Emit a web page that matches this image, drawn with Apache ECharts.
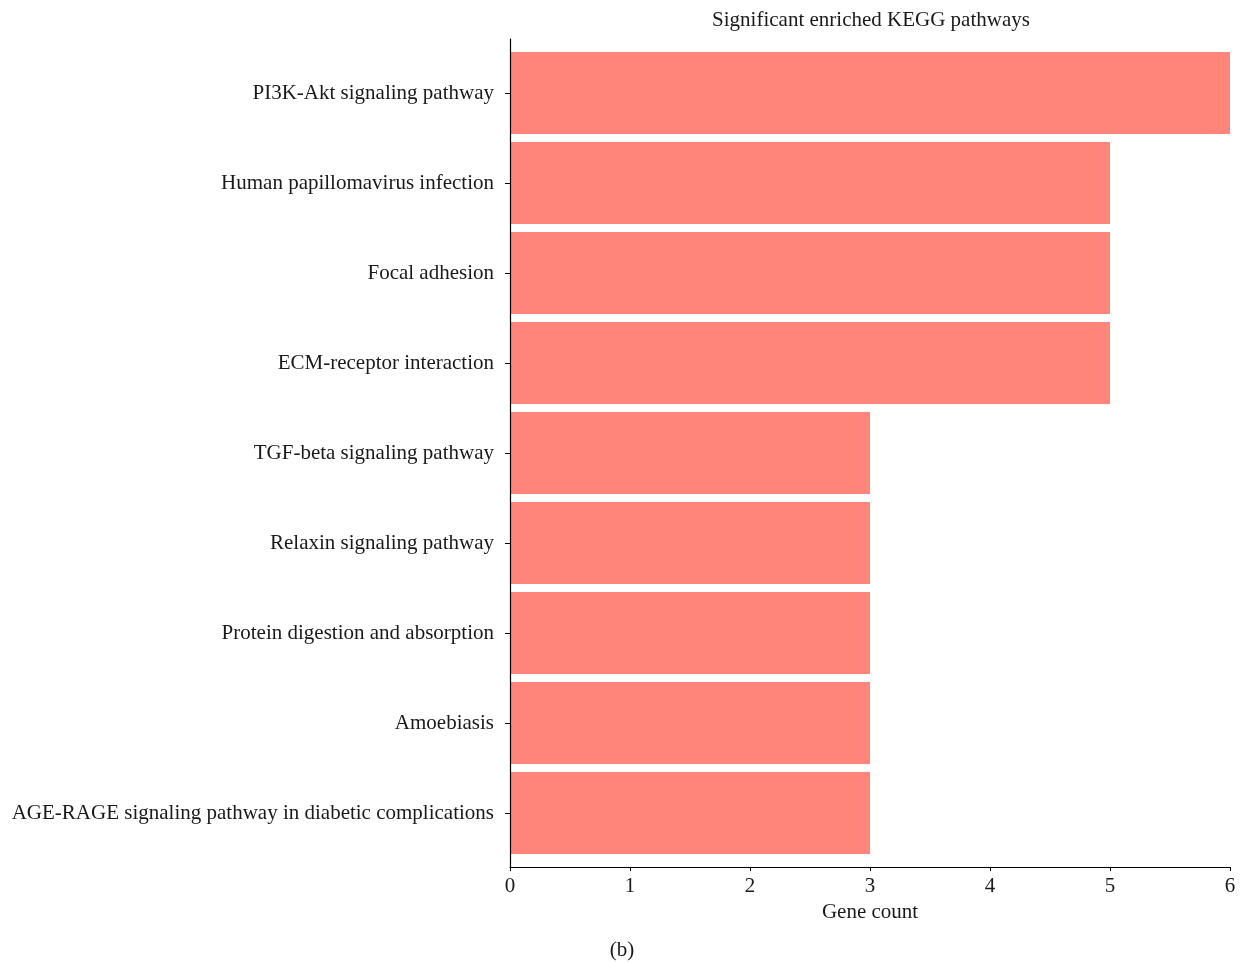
<!DOCTYPE html>
<html>
<head>
<meta charset="utf-8">
<title>Significant enriched KEGG pathways</title>
<script src="https://cdn.jsdelivr.net/npm/echarts@6/dist/echarts.min.js"></script>
<style>
  html, body { margin: 0; padding: 0; background: #fff; }
  #chart { width: 1244px; height: 962px; }
</style>
</head>
<body>
<div id="chart"></div>
<script>
// Pathways listed bottom to top (category axis runs upward)
const pathways = [
  'AGE-RAGE signaling pathway in diabetic complications',
  'Amoebiasis',
  'Protein digestion and absorption',
  'Relaxin signaling pathway',
  'TGF-beta signaling pathway',
  'ECM-receptor interaction',
  'Focal adhesion',
  'Human papillomavirus infection',
  'PI3K-Akt signaling pathway'
];
const geneCounts = [3, 3, 3, 3, 3, 5, 5, 5, 6];
const countTicks = [0, 1, 2, 3, 4, 5, 6];

const FONT = '"Liberation Serif", "DejaVu Serif", serif';
const TEXT = '#1a1a1a';
const FS = 21;

const chart = echarts.init(document.getElementById('chart'));
chart.setOption({
  backgroundColor: '#fff',
  animation: false,
  textStyle: { fontFamily: FONT, color: TEXT },
  title: [
    {
      text: 'Significant enriched KEGG pathways',
      left: 866, top: 5, textAlign: 'center',
      textStyle: { fontFamily: FONT, fontSize: FS, fontWeight: 'normal', color: TEXT }
    },
    {
      text: '(b)',
      left: 617, top: 935, textAlign: 'center',
      textStyle: { fontFamily: FONT, fontSize: FS, fontWeight: 'normal', color: TEXT }
    }
  ],
  grid: [
    // bars
    { left: 510, right: 14, top: 48, bottom: 104 },
    // frame axes (slightly taller than the bar band)
    { left: 510, right: 14, top: 39, bottom: 95 }
  ],
  xAxis: [
    {
      gridIndex: 0, type: 'value', min: 0, max: 6, interval: 1,
      show: false
    },
    {
      gridIndex: 1, type: 'value', min: 0, max: 6, interval: 1,
      name: 'Gene count', nameLocation: 'middle', nameGap: 34,
      nameTextStyle: { fontFamily: FONT, fontSize: FS, color: TEXT },
      axisLine: { show: true, lineStyle: { color: '#000', width: 1.2 } },
      axisTick: { show: true, length: 4, lineStyle: { color: '#000' } },
      axisLabel: {
        fontFamily: FONT, fontSize: FS, color: TEXT, margin: 9,
        formatter: v => countTicks.includes(v) ? String(v) : ''
      },
      splitLine: { show: false }
    }
  ],
  yAxis: [
    {
      gridIndex: 0, type: 'category', data: pathways,
      axisLine: { show: false },
      axisTick: { show: true, alignWithLabel: true, length: 5, lineStyle: { color: '#000' } },
      axisLabel: { fontFamily: FONT, fontSize: FS, color: TEXT, margin: 16, padding: [3, 0, 0, 0] }
    },
    {
      gridIndex: 1, type: 'value', min: 0, max: 1, z: 5,
      axisLine: { show: true, lineStyle: { color: '#000', width: 1.2 } },
      axisTick: { show: false },
      axisLabel: { show: false },
      splitLine: { show: false }
    }
  ],
  series: [
    {
      type: 'bar',
      xAxisIndex: 0, yAxisIndex: 0,
      data: geneCounts,
      barCategoryGap: '9%',
      itemStyle: { color: '#FF8479' }
    }
  ]
});
</script>
</body>
</html>
